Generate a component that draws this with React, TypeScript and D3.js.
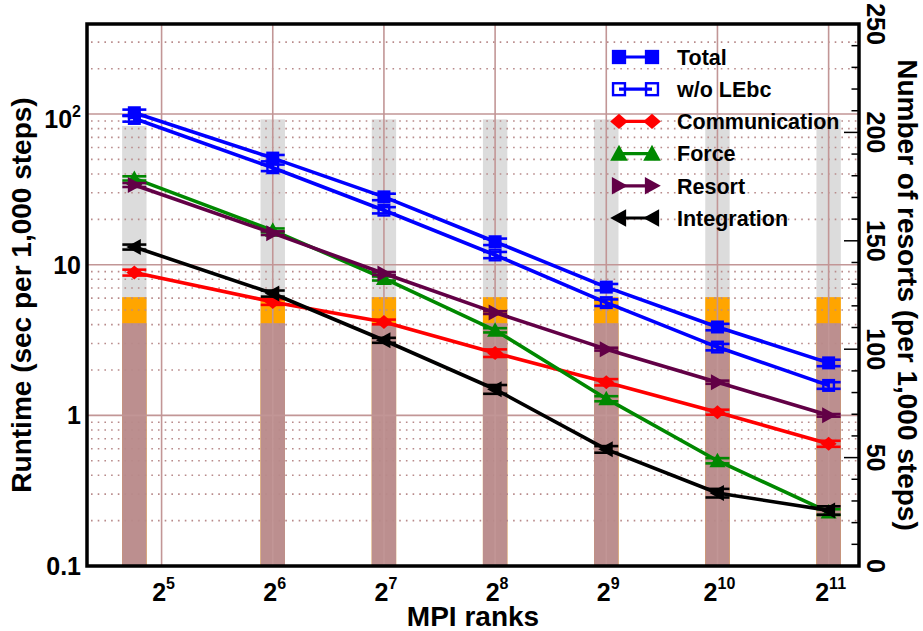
import * as d3 from 'd3';
import { useEffect, useRef } from 'react';

const WIDTH = 923;
const HEIGHT = 631;

// MPI ranks (first run uses 27 ranks)
const ranks = [27, 64, 128, 256, 512, 1024, 2048];

// Runtime in sec per 1,000 steps
const total = [102, 51, 28.2, 14.2, 7.1, 3.86, 2.23];
const totalErr = [5, 2.5, 1.4, 0.7, 0.35, 0.19, 0.11];
const woLEbc = [93.5, 44, 23, 11.6, 5.6, 2.84, 1.58];
const woLEbcErr = [4.5, 2.2, 1.1, 0.55, 0.28, 0.14, 0.08];
const communication = [8.87, 5.66, 4.17, 2.59, 1.66, 1.05, 0.648];
const communicationErr = [0.4, 0.25, 0.15, 0.15, 0.08, 0.04, 0.03];
const force = [37.4, 16.9, 8.1, 3.67, 1.29, 0.5, 0.228];
const forceErr = [1.2, 0.5, 0.25, 0.12, 0.05, 0.02, 0.01];
const resort = [33.8, 16.2, 8.74, 4.81, 2.75, 1.66, 1.0];
const resortErr = [1.0, 0.45, 0.2, 0.1, 0.06, 0.04, 0.02];
const integration = [13.1, 6.44, 3.15, 1.49, 0.595, 0.305, 0.234];
const integrationErr = [0.5, 0.3, 0.12, 0.1, 0.03, 0.02, 0.015];

// Number of resorts per 1,000 steps (right axis bars)
const resortsUpper = [203, 206, 206, 206, 206, 206, 206];
const resortsMid = [124, 124, 124, 124, 124, 124, 124];
const resortsLower = [112, 112, 112, 112, 112, 112, 112];

const xTickExps = [5, 6, 7, 8, 9, 10, 11];
const yMajorTicks = [0.1, 1, 10, 100];
const yRightTicks = [0, 50, 100, 150, 200, 250];

type Marker = 'square' | 'openSquare' | 'diamond' | 'triUp' | 'triRight' | 'triLeft';

interface Series {
    name: string;
    values: number[];
    errors: number[];
    color: string;
    marker: Marker;
}

const series: Series[] = [
    { name: 'Total', values: total, errors: totalErr, color: '#0000ff', marker: 'square' },
    { name: 'w/o LEbc', values: woLEbc, errors: woLEbcErr, color: '#0000ff', marker: 'openSquare' },
    { name: 'Communication', values: communication, errors: communicationErr, color: '#ff0000', marker: 'diamond' },
    { name: 'Force', values: force, errors: forceErr, color: '#008800', marker: 'triUp' },
    { name: 'Resort', values: resort, errors: resortErr, color: '#620046', marker: 'triRight' },
    { name: 'Integration', values: integration, errors: integrationErr, color: '#000000', marker: 'triLeft' },
];

const FONT = '"Liberation Sans", Arial, Helvetica, sans-serif';

const drawMarker = (
    g: d3.Selection<SVGGElement, unknown, null, undefined>,
    type: Marker,
    cx: number,
    cy: number,
    color: string,
    k = 1
) => {
    const s = 6.5 * k;
    if (type === 'square') {
        g.append('rect').attr('x', cx - s).attr('y', cy - s).attr('width', 2 * s).attr('height', 2 * s).attr('fill', color);
    } else if (type === 'openSquare') {
        g.append('rect')
            .attr('x', cx - s + 1.2)
            .attr('y', cy - s + 1.2)
            .attr('width', 2 * s - 2.4)
            .attr('height', 2 * s - 2.4)
            .attr('fill', 'none')
            .attr('stroke', color)
            .attr('stroke-width', 2.4);
    } else {
        const a = 8 * k;
        const b = 6.5 * k;
        let pts: [number, number][] = [];
        if (type === 'diamond') pts = [[cx - a, cy], [cx, cy - 7 * k], [cx + a, cy], [cx, cy + 7 * k]];
        if (type === 'triUp') pts = [[cx - a, cy + b], [cx, cy - a], [cx + a, cy + b]];
        if (type === 'triRight') pts = [[cx - b, cy - a], [cx + a, cy], [cx - b, cy + a]];
        if (type === 'triLeft') pts = [[cx + b, cy - a], [cx - a, cy], [cx + b, cy + a]];
        g.append('path').attr('d', 'M' + pts.map((p) => p.join(',')).join('L') + 'Z').attr('fill', color);
    }
};

const RuntimeChart: React.FC = () => {
    const svgRef = useRef<SVGSVGElement | null>(null);

    useEffect(() => {
        if (!svgRef.current) return;
        const svg = d3.select(svgRef.current);
        svg.selectAll('*').remove();

        const left = 87;
        const right = 859;
        const top = 24;
        const bottom = 566;

        const x = d3.scaleLog().base(2).domain([20.1, 2475]).range([left, right]);
        const y = d3.scaleLog().domain([0.1, 396]).range([bottom, top]);
        const yR = d3.scaleLinear().domain([0, 250]).range([bottom, top]);

        const gridColor = '#c29696';
        const barHalf = 12.2;

        // Bars (number of resorts, right axis)
        const bars = svg.append('g');
        const barLayers: [number[], string][] = [
            [resortsUpper, '#dcdcdc'],
            [resortsMid, '#ffa500'],
            [resortsLower, '#bc8f8f'],
        ];
        barLayers.forEach(([vals, color]) => {
            bars.selectAll(null)
                .data(ranks)
                .join('rect')
                .attr('x', (d) => x(d) - barHalf)
                .attr('width', barHalf * 2)
                .attr('y', (_, i) => yR(vals[i]))
                .attr('height', (_, i) => bottom - yR(vals[i]))
                .attr('fill', color);
        });

        // Minor horizontal grid (dotted)
        const minor: number[] = [];
        [0.1, 1, 10, 100].forEach((dec) => {
            for (let m = 2; m <= 9; m++) {
                const v = dec * m;
                if (v < 396) minor.push(v);
            }
        });
        svg.append('g')
            .selectAll('line')
            .data(minor)
            .join('line')
            .attr('x1', left + 4)
            .attr('x2', right)
            .attr('y1', (d) => y(d))
            .attr('y2', (d) => y(d))
            .attr('stroke', '#b88a8a')
            .attr('stroke-width', 1.6)
            .attr('stroke-dasharray', '1.6,5.1');

        // Major grid
        const major = svg.append('g').attr('stroke', gridColor).attr('stroke-width', 1.6);
        major.selectAll('.hmaj')
            .data(yMajorTicks.slice(1))
            .join('line')
            .attr('x1', left)
            .attr('x2', right)
            .attr('y1', (d) => y(d))
            .attr('y2', (d) => y(d));
        major.selectAll('.vmaj')
            .data(xTickExps)
            .join('line')
            .attr('x1', (d) => x(2 ** d))
            .attr('x2', (d) => x(2 ** d))
            .attr('y1', top)
            .attr('y2', bottom);

        // Right axis ticks (inward)
        const rt = svg.append('g').attr('stroke', '#000').attr('stroke-width', 1.5);
        rt.selectAll('line')
            .data(d3.range(0, 251, 10))
            .join('line')
            .attr('x1', (d) => (d % 50 === 0 ? right - 15 : right - 7.5))
            .attr('x2', right)
            .attr('y1', (d) => yR(d))
            .attr('y2', (d) => yR(d));

        // Series lines, error bars, markers
        series.forEach((s) => {
            const g = svg.append('g');
            const line = d3
                .line<number>()
                .x((_, i) => x(ranks[i]))
                .y((d) => y(d));
            g.append('path')
                .attr('d', line(s.values))
                .attr('fill', 'none')
                .attr('stroke', s.color)
                .attr('stroke-width', 3.6)
                .attr('stroke-linejoin', 'round');
            s.values.forEach((v, i) => {
                const cx = x(ranks[i]);
                const y1 = y(v + s.errors[i]);
                const y0 = y(Math.max(v - s.errors[i], 0.01));
                const eb = g.append('g').attr('stroke', s.color).attr('stroke-width', 2.6);
                eb.append('line').attr('x1', cx).attr('x2', cx).attr('y1', y0).attr('y2', y1);
                eb.append('line').attr('x1', cx - 12).attr('x2', cx + 12).attr('y1', y0).attr('y2', y0);
                eb.append('line').attr('x1', cx - 12).attr('x2', cx + 12).attr('y1', y1).attr('y2', y1);
                drawMarker(g, s.marker, cx, y(v), s.color);
            });
        });

        // Border
        svg.append('rect')
            .attr('x', left)
            .attr('y', top)
            .attr('width', right - left)
            .attr('height', bottom - top)
            .attr('fill', 'none')
            .attr('stroke', '#000')
            .attr('stroke-width', 3.5);

        // Legend
        const legend = svg.append('g');
        series.forEach((s, i) => {
            const cy = 57 + i * 32.2;
            const row = legend.append('g');
            row.append('line')
                .attr('x1', 619)
                .attr('x2', 652)
                .attr('y1', cy)
                .attr('y2', cy)
                .attr('stroke', s.color)
                .attr('stroke-width', 3.2);
            drawMarker(row, s.marker, 619, cy, s.color, 1.1);
            drawMarker(row, s.marker, 652, cy, s.color, 1.1);
            row.append('text')
                .attr('x', 677)
                .attr('y', cy)
                .attr('dy', '0.36em')
                .style('font-family', FONT)
                .style('font-weight', 'bold')
                .style('font-size', '21.5px')
                .text(s.name);
        });

        const text = svg.append('g').style('font-family', FONT).style('font-weight', 'bold').attr('fill', '#000');

        // Left tick labels
        yMajorTicks.forEach((v) => {
            const t = text
                .append('text')
                .attr('x', 81)
                .attr('y', y(v) + (v === 100 ? 13.5 : 9))
                .attr('text-anchor', 'end')
                .style('font-size', '25px');
            if (v === 100) {
                t.append('tspan').text('10');
                t.append('tspan').attr('dy', -11).style('font-size', '16px').text('2');
            } else {
                t.text(v === 0.1 ? '0.1' : String(v));
            }
        });

        // Bottom tick labels
        xTickExps.forEach((e) => {
            const t = text
                .append('text')
                .attr('x', x(2 ** e) + 2)
                .attr('y', 601)
                .attr('text-anchor', 'middle')
                .style('font-size', '25px');
            t.append('tspan').text('2');
            t.append('tspan').attr('dy', -12).style('font-size', '16px').text(String(e));
        });

        // Right tick labels (rotated)
        yRightTicks.forEach((v) => {
            text.append('text')
                .attr('transform', `translate(867,${yR(v)}) rotate(90)`)
                .attr('text-anchor', 'middle')
                .style('font-size', '25px')
                .text(String(v));
        });

        // Axis titles
        text.append('text')
            .attr('transform', `translate(31,${(top + bottom) / 2}) rotate(-90)`)
            .attr('text-anchor', 'middle')
            .style('font-size', '28px')
            .text('Runtime (sec per 1,000 steps)');
        text.append('text')
            .attr('transform', `translate(898,${(top + bottom) / 2}) rotate(90)`)
            .attr('text-anchor', 'middle')
            .style('font-size', '28px')
            .text('Number of resorts (per 1,000 steps)');
        text.append('text')
            .attr('x', (left + right) / 2)
            .attr('y', 626)
            .attr('text-anchor', 'middle')
            .style('font-size', '28px')
            .text('MPI ranks');
    }, []);

    return <svg ref={svgRef} width={WIDTH} height={HEIGHT} style={{ display: 'block' }}></svg>;
};

export default function App() {
    return (
        <div style={{ position: 'absolute', left: 0, top: 0, width: WIDTH, height: HEIGHT, background: '#fff' }}>
            <RuntimeChart />
        </div>
    );
}
